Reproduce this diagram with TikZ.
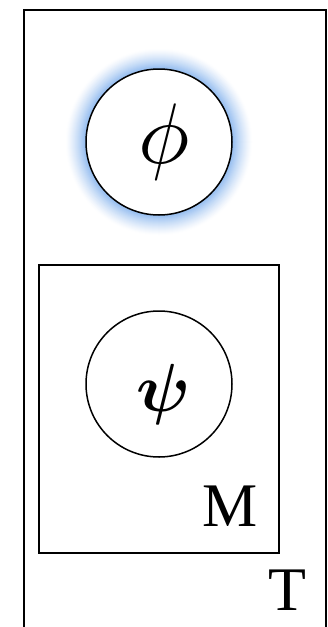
\documentclass[tikz,border=0pt]{standalone}
\usepackage{amsmath}
\usepackage{bm}
\usepackage{graphicx}
\usepackage{xcolor}
\usepackage{fontspec}
\setmainfont{Liberation Serif}
\usepackage{tikz}
\usetikzlibrary{shapes,positioning,calc}

\definecolor{glowblue}{RGB}{150,190,240}

\tikzset{
    plate/.style={rectangle,draw,line width=2pt,inner sep=0pt},
    latent/.style={circle,draw,line width=1.5pt,fill=white,minimum size=146pt,inner sep=0pt},
    platelabel/.style={font=\fontsize{62}{62}\selectfont,inner sep=0pt}
}

\begin{document}
\begin{tikzpicture}[x=1pt,y=-1pt]
    \useasboundingbox (0,0) rectangle (328,627);
    \clip (0,0) rectangle (328,627);

    % Outer plate T
    \node[plate,minimum width=302pt,minimum height=640pt,anchor=north west] (plateT) at (23,9) {};
    \node[platelabel] (labelT) at (287,590) {T};

    % Global variable with glow
    \coordinate (phic) at (159,142);
    \foreach \i in {0,...,20} {
        \pgfmathsetmacro\p{100*(\i/20)^1.3}
        \fill[glowblue!\p!white] (phic) circle ({94-\i});
    }
    \node[latent,label={[xshift=5pt,inner sep=0pt]center:\scalebox{8.6}{$\phi$}}] (phi) at (phic) {};

    % Inner plate M
    \node[plate,minimum width=240pt,minimum height=288pt,anchor=north west] (plateM) at (38,264) {};
    \node[platelabel] (labelM) at (230,506) {M};

    % Local variable
    \node[latent,label={[xshift=5pt,yshift=-10pt,inner sep=0pt]center:\scalebox{6.8}{$\bm{\psi}$}}] (psi) at (159,384) {};
\end{tikzpicture}
\end{document}
